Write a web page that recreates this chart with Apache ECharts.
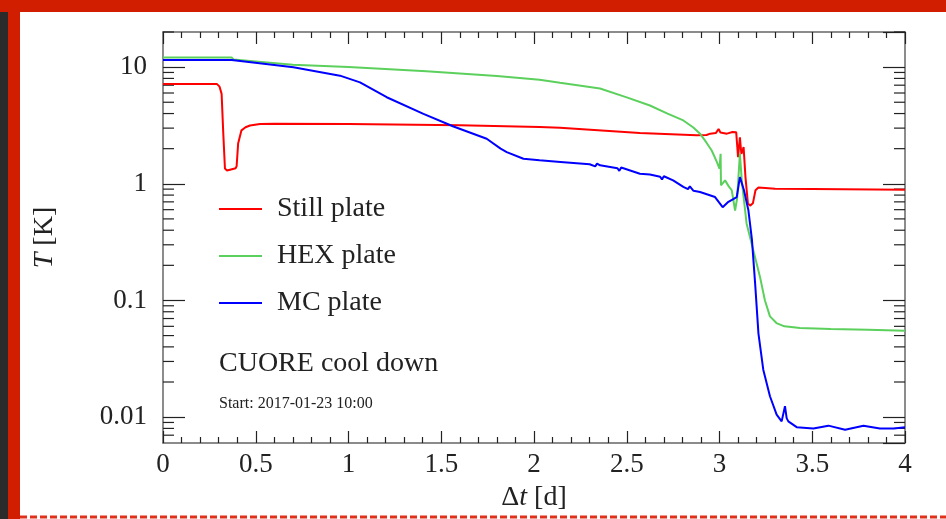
<!DOCTYPE html>
<html>
<head>
<meta charset="utf-8">
<script src="https://cdn.jsdelivr.net/npm/echarts@6/dist/echarts.min.js"></script>
<style>
  html, body { margin: 0; padding: 0; background: #fff; }
  #main { width: 946px; height: 519px; }
</style>
</head>
<body>
<div id="main"></div>
<script>
// values: [days since start, temperature in K]
var stillPlate = [
  [0, 7.18], [0.29, 7.18], [0.305, 6.8], [0.316, 5.9], [0.325, 2.69], [0.334, 1.35],
  [0.345, 1.3], [0.361, 1.32], [0.392, 1.36], [0.397, 1.42], [0.405, 2.21], [0.423, 2.87],
  [0.445, 3.05], [0.469, 3.16], [0.523, 3.25], [0.6, 3.27], [1.0, 3.25], [1.6, 3.18],
  [2.03, 3.06], [2.14, 3.02], [2.57, 2.72], [2.877, 2.6], [2.93, 2.62], [2.95, 2.69],
  [2.98, 2.72], [2.995, 2.95], [3.005, 2.75], [3.04, 2.69], [3.07, 2.78], [3.09, 2.77],
  [3.1, 1.69], [3.11, 2.5], [3.118, 1.8], [3.13, 2.06], [3.14, 1.14], [3.153, 0.68],
  [3.165, 0.65], [3.175, 0.66], [3.18, 0.68], [3.194, 0.88], [3.21, 0.93], [3.22, 0.92],
  [3.3, 0.905], [3.5, 0.9], [4, 0.89]
];
var hexPlate = [
  [0, 12.1], [0.37, 12.1], [0.38, 11.6], [0.5, 11.2], [0.7, 10.5], [1.0, 10.0],
  [1.42, 9.2], [1.8, 8.4], [2.03, 7.8], [2.14, 7.33], [2.356, 6.55], [2.5, 5.5],
  [2.625, 4.69], [2.72, 4.0], [2.805, 3.49], [2.859, 3.04], [2.895, 2.69], [2.93, 2.25],
  [2.958, 1.93], [2.985, 1.55], [3.0, 1.35], [3.006, 1.81], [3.008, 0.97], [3.03, 1.07],
  [3.05, 0.95], [3.066, 0.88], [3.084, 0.59], [3.095, 0.75], [3.102, 0.77], [3.11, 1.81],
  [3.12, 1.07], [3.146, 0.457], [3.182, 0.27], [3.218, 0.16], [3.245, 0.1], [3.272, 0.073],
  [3.307, 0.064], [3.35, 0.06], [3.434, 0.058], [3.6, 0.057], [3.8, 0.056], [4, 0.055]
];
var mcPlate = [
  [0, 11.5], [0.37, 11.5], [0.52, 10.8], [0.703, 9.96], [0.954, 8.45], [1.062, 7.4],
  [1.206, 5.52], [1.404, 3.98], [1.566, 3.1], [1.745, 2.43], [1.82, 2.0], [1.853, 1.87],
  [1.943, 1.64], [2.03, 1.59], [2.143, 1.54], [2.3, 1.47], [2.33, 1.41], [2.34, 1.49],
  [2.356, 1.44], [2.45, 1.36], [2.46, 1.29], [2.47, 1.38], [2.571, 1.22], [2.625, 1.2],
  [2.68, 1.15], [2.69, 1.09], [2.7, 1.16], [2.75, 1.07], [2.805, 0.94], [2.83, 0.9],
  [2.84, 0.95], [2.86, 0.87], [2.895, 0.85], [2.976, 0.77], [3.017, 0.63], [3.048, 0.7],
  [3.093, 0.77], [3.11, 1.14], [3.132, 0.88], [3.156, 0.59], [3.175, 0.33], [3.192, 0.14],
  [3.21, 0.052], [3.236, 0.0255], [3.272, 0.0151], [3.308, 0.0105], [3.335, 0.0092],
  [3.345, 0.0095], [3.353, 0.0124], [3.362, 0.0098], [3.371, 0.0092], [3.416, 0.0082],
  [3.506, 0.008], [3.587, 0.00845], [3.677, 0.0078], [3.776, 0.00845], [3.865, 0.008],
  [3.94, 0.008], [4, 0.0082]
];
var seriesNames = ['Still plate', 'HEX plate', 'MC plate'];
var seriesColors = ['#ff0000', '#5cd05c', '#0000ff'];
var minorYTicks = [
  0.007, 0.008, 0.009,
  0.02, 0.03, 0.04, 0.05, 0.06, 0.07, 0.08, 0.09,
  0.2, 0.3, 0.4, 0.5, 0.6, 0.7, 0.8, 0.9,
  2, 3, 4, 5, 6, 7, 8, 9, 20
];

var font = 'Liberation Serif';
var ink = '#222';
var chart = echarts.init(document.getElementById('main'));

function xAxisDef(pos) {
  return {
    type: 'value', position: pos, min: 0, max: 4, interval: 0.5,
    axisLine: { show: true, onZero: false, lineStyle: { color: '#666', width: 1.5 } },
    axisTick: { show: true, inside: true, length: 12, lineStyle: { color: ink, width: 1.2 } },
    minorTick: { show: true, splitNumber: 5, length: 6, lineStyle: { color: ink, width: 1.2 } },
    splitLine: { show: false },
    axisLabel: pos === 'bottom'
      ? { fontFamily: font, fontSize: 27, color: ink, margin: 8 }
      : { show: false }
  };
}
function yAxisDef(pos) {
  return {
    type: 'log', logBase: 10, position: pos, min: 0.006, max: 20,
    axisLine: { show: true, onZero: false, lineStyle: { color: '#666', width: 1.5 } },
    axisTick: { show: true, inside: true, length: 22, lineStyle: { color: ink, width: 1.2 } },
    splitLine: { show: false },
    axisLabel: pos === 'left'
      ? { fontFamily: font, fontSize: 27, color: ink, margin: 16, showMinLabel: false, showMaxLabel: false }
      : { show: false }
  };
}

var nameRich = {
  n: { fontFamily: font, fontSize: 28, color: ink },
  i: { fontFamily: font, fontSize: 28, color: ink, fontStyle: 'italic' }
};
var xBottom = xAxisDef('bottom');
xBottom.name = '{n|Δ}{i|t}{n| [d]}';
xBottom.nameLocation = 'middle';
xBottom.nameGap = 41;
xBottom.nameTextStyle = { rich: nameRich };
var yLeft = yAxisDef('left');
yLeft.name = '{i|T}{n| [K]}';
yLeft.nameLocation = 'middle';
yLeft.nameRotate = 90;
yLeft.nameGap = 104;
yLeft.nameTextStyle = { rich: nameRich };

var lines = [stillPlate, hexPlate, mcPlate].map(function (d, i) {
  return {
    name: seriesNames[i], type: 'line', data: d, symbol: 'none', showSymbol: false,
    color: seriesColors[i], lineStyle: { width: 2, color: seriesColors[i] }, z: 3
  };
});

var option = {
  animation: false,
  backgroundColor: '#fff',
  grid: { left: 163, right: 41, top: 32, bottom: 76, outerBoundsMode: 'none', containLabel: false },
  xAxis: [xBottom, xAxisDef('top')],
  yAxis: [yLeft, yAxisDef('right')],
  legend: {
    data: seriesNames, orient: 'vertical', left: 219, top: 195, padding: 0,
    icon: 'rect', itemWidth: 43, itemHeight: 2, itemGap: 19,
    textStyle: { fontFamily: font, fontSize: 28, color: ink, padding: [0, 0, 0, 10] }
  },
  title: {
    text: 'CUORE cool down', subtext: 'Start: 2017-01-23 10:00',
    left: 219, top: 350, padding: 0, itemGap: 18,
    textStyle: { fontFamily: font, fontSize: 28, fontWeight: 'normal', color: ink },
    subtextStyle: { fontFamily: font, fontSize: 16, color: ink }
  },
  graphic: [
    { type: 'rect', shape: { x: 0, y: 0, width: 8, height: 519 }, style: { fill: '#2b2b2b' }, z: 100 },
    { type: 'rect', shape: { x: 8, y: 0, width: 12, height: 519 }, style: { fill: '#d21e00' }, z: 100 },
    { type: 'rect', shape: { x: 0, y: 0, width: 946, height: 12 }, style: { fill: '#d21e00' }, z: 100 },
    { type: 'line', shape: { x1: 20, y1: 517, x2: 946, y2: 517 },
      style: { stroke: '#e0301a', lineWidth: 3, lineDash: [7, 3] }, z: 100 }
  ],
  series: lines.concat([{
    type: 'custom', silent: true, z: 2,
    data: minorYTicks.map(function (v) { return [0, v]; }),
    encode: { x: 0, y: 1 },
    renderItem: function (params, api) {
      var v = api.value(1);
      var l = api.coord([0, v]);
      var r = api.coord([4, v]);
      var st = { stroke: ink, lineWidth: 1.2 };
      return {
        type: 'group', children: [
          { type: 'line', shape: { x1: l[0], y1: l[1], x2: l[0] + 11, y2: l[1] }, style: st },
          { type: 'line', shape: { x1: r[0], y1: r[1], x2: r[0] - 11, y2: r[1] }, style: st }
        ]
      };
    }
  }])
};
chart.setOption(option);
</script>
</body>
</html>
